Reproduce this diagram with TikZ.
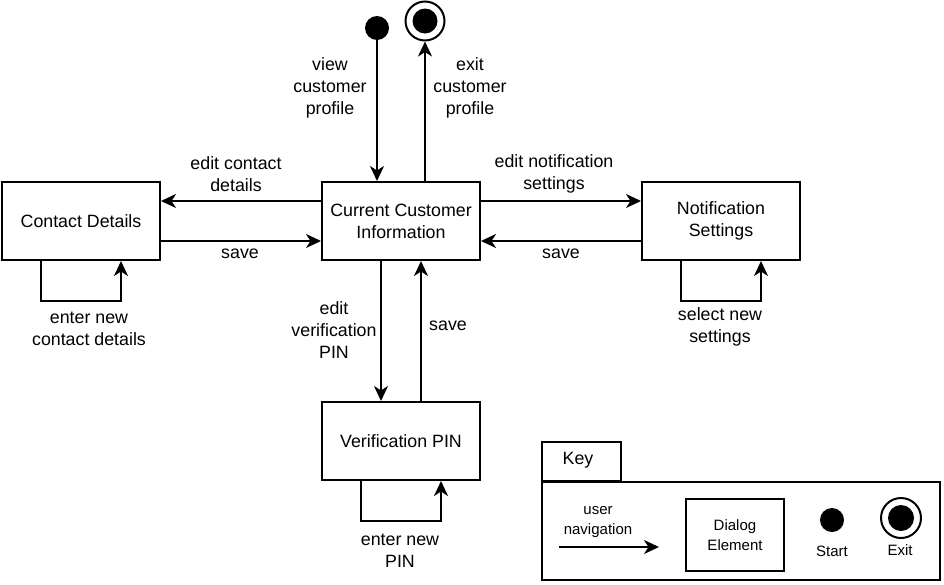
\documentclass[tikz,border=0pt]{standalone}
\usepackage{fontspec}
\setmainfont{Liberation Sans}
\usetikzlibrary{arrows.meta}
\tikzset{
	dialog/.style={draw, line width=2pt, minimum width=158pt, minimum height=78pt, align=center, inner sep=0pt},
	nav/.style={line width=2pt, -{Stealth[length=15pt, width=14pt, inset=4.5pt]}},
	lbl/.style={align=center, inner sep=0pt},
	keytext/.style={align=center, inner sep=0pt, font=\fontsize{15}{20}\selectfont},
}
\begin{document}
\begin{tikzpicture}[x=1pt, y=-1pt, font=\fontsize{17.8}{22}\selectfont]
		\useasboundingbox (0,0) rectangle (944,584);
		% Dialog elements
		\node[dialog] (cd) at (81,221) {Contact Details};
		\node[dialog] (cci) at (401,221) {Current Customer\\Information};
		\node[dialog] (ns) at (721,221) {Notification\\Settings};
		\node[dialog] (vp) at (401,441) {Verification PIN};
		% Start and exit
		\node[circle, fill, inner sep=0pt, minimum size=24pt] (start) at (377,28) {};
		\node[circle, draw, line width=2pt, inner sep=0pt, minimum size=39pt] (exit) at (425,21) {};
		\fill (exit.center) circle (12.5pt);
		% Navigation
		\draw[nav] (start.south) -- (start |- cci.north);
		\draw[nav] (exit |- cci.north) -- (exit.south);
		\draw[nav] ([yshift=20pt]cci.west) -- ([yshift=20pt]cd.east);
		\draw[nav] ([yshift=-20pt]cd.east) -- ([yshift=-20pt]cci.west);
		\draw[nav] ([yshift=20pt]cci.east) -- ([yshift=20pt]ns.west);
		\draw[nav] ([yshift=-20pt]ns.west) -- ([yshift=-20pt]cci.east);
		\draw[nav] ([xshift=-20pt]cci.south) -- ([xshift=-20pt]vp.north);
		\draw[nav] ([xshift=20pt]vp.north) -- ([xshift=20pt]cci.south);
		% Self loops
		\draw[nav] ([xshift=-40pt]cd.south) -- ++(0,40) -| ([xshift=40pt]cd.south);
		\draw[nav] ([xshift=-40pt]ns.south) -- ++(0,40) -| ([xshift=40pt]ns.south);
		\draw[nav] ([xshift=-40pt]vp.south) -- ++(0,40) -| ([xshift=40pt]vp.south);
		% Labels
		\node[lbl] (lview) at (330,88) {view\\customer\\profile};
		\node[lbl] (lexit) at (470,88) {exit\\customer\\profile};
		\node[lbl] (leditcd) at (236,174) {edit contact\\details};
		\node[lbl] (lsavecd) at (240,254) {save};
		\node[lbl] (leditns) at (554,174) {edit notification\\settings};
		\node[lbl] (lsavens) at (561,254) {save};
		\node[lbl] (leditvp) at (334,330) {edit\\verification\\PIN};
		\node[lbl] (lsavevp) at (448,326) {save};
		\node[lbl] (lloopcd) at (89,329) {enter new\\contact details};
		\node[lbl] (lloopns) at (720,327) {select new\\settings};
		\node[lbl] (lloopvp) at (400,551) {enter new\\PIN};
		% Key
		\node[draw, line width=2pt, minimum width=79pt, minimum height=39pt, inner sep=0pt] (keytab) at (581,461) {};
		\node[lbl] (keylbl) at (578,460) {Key};
		\node[draw, line width=2pt, minimum width=398pt, minimum height=98pt, inner sep=0pt] (keybox) at (741,531) {};
		\coordinate (knava) at (559,547);
		\coordinate (knavb) at (659,547);
		\draw[nav] (knava) -- (knavb);
		\node[keytext] (knavlbl) at (598,522) {user\\navigation};
		\node[dialog, minimum width=98pt, minimum height=72pt, font=\fontsize{15}{20}\selectfont] (kdialog) at (735,535) {Dialog\\Element};
		\node[circle, fill, inner sep=0pt, minimum size=24pt] (kstart) at (832,520) {};
		\node[keytext] (kstartlbl) at (832,551) {Start};
		\node[circle, draw, line width=2pt, inner sep=0pt, minimum size=40pt] (kexit) at (901,518) {};
		\fill (kexit.center) circle (13pt);
		\node[keytext] (kexitlbl) at (900,550) {Exit};
	\end{tikzpicture}
\end{document}
